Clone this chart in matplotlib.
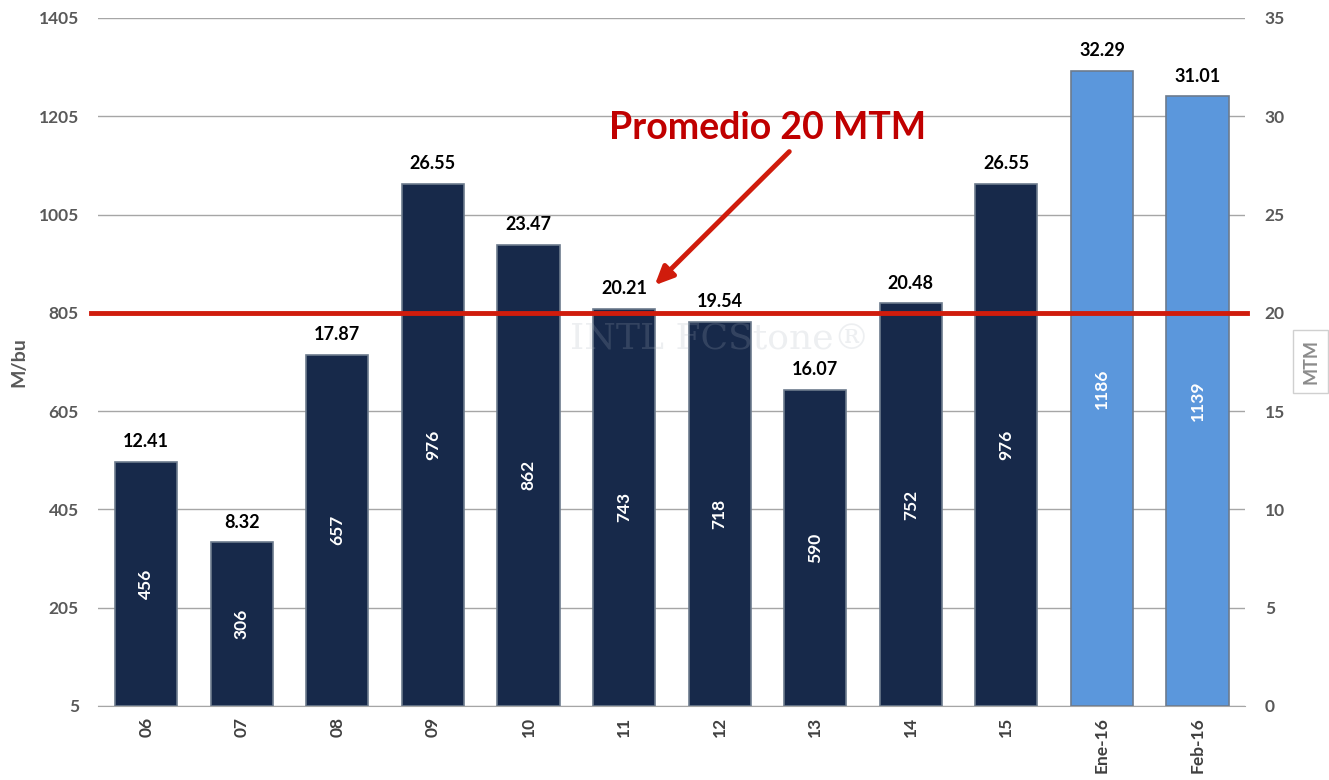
import matplotlib.pyplot as plt
import numpy as np

# data
categories = ['06', '07', '08', '09', '10', '11', '12', '13', '14', '15', 'Ene-16', 'Feb-16']
mtm = [12.41, 8.32, 17.87, 26.55, 23.47, 20.21, 19.54, 16.07, 20.48, 26.55, 32.29, 31.01]
mbu = [456, 306, 657, 976, 862, 743, 718, 590, 752, 976, 1186, 1139]
n_dark = 10  # first ten bars are the annual ones
avg_mtm = 20

dark = '#17294a'
light = '#5b97dc'
grey = '#595959'

plt.rcParams['font.family'] = ['Lato', 'DejaVu Sans']

fig = plt.figure(figsize=(13.29, 7.8), dpi=100)
ax = fig.add_axes([0.074, 0.095, 0.863, 0.882])
axl = ax.twinx()  # left axis in M/bu

x = np.arange(len(categories))
colors = [dark] * n_dark + [light] * (len(categories) - n_dark)
bars = ax.bar(x, mtm, width=0.65, color=colors, edgecolor='#6d7b8d', linewidth=1.2, zorder=3)

ax.set_xlim(-0.5, len(categories) - 0.5)
ax.set_ylim(0, 35)
ax.set_yticks(np.arange(0, 36, 5))
ax.yaxis.tick_right()
ax.yaxis.grid(True, color='#a6a6a6', linewidth=1, zorder=0)
ax.set_axisbelow(True)
ax.tick_params(axis='y', length=0, pad=14, labelsize=12.5, labelcolor=grey)
for t in ax.get_yticklabels():
    t.set_fontweight('bold')

ax.set_xticks(x)
ax.set_xticklabels(categories, rotation=90, fontsize=12.5, fontweight='bold', color='#404040')
ax.tick_params(axis='x', length=0, pad=8)

for s in ['top', 'left', 'right']:
    ax.spines[s].set_visible(False)
ax.spines['bottom'].set_color('#a6a6a6')

axl.set_ylim(5, 1405)
axl.set_yticks(np.arange(5, 1406, 200))
axl.yaxis.tick_left()
axl.yaxis.set_label_position('left')
axl.tick_params(axis='y', length=0, pad=14, labelsize=12.5, labelcolor=grey)
for t in axl.get_yticklabels():
    t.set_fontweight('bold')
for s in axl.spines.values():
    s.set_visible(False)
axl.set_ylabel('M/bu', fontsize=14, fontweight='bold', color=grey, labelpad=8)
axl.set_zorder(0)
ax.set_zorder(1)
ax.patch.set_visible(False)

ax.text(1.057, 0.5, 'MTM', transform=ax.transAxes, rotation=90, ha='center', va='center',
        fontsize=13, fontweight='bold', color='#8c8c8c',
        bbox=dict(boxstyle='square,pad=0.5', fc='white', ec='#d0d0d0', lw=1))

# labels on and in bars
for xi, v, m in zip(x, mtm, mbu):
    ax.text(xi, v + 0.6, f'{v:.2f}', ha='center', va='bottom', fontsize=13,
            fontweight='bold', color='black', zorder=5)
    ax.text(xi, v / 2, str(m), ha='center', va='center', rotation=90, fontsize=12.5,
            fontweight='bold', color='white', zorder=5)

# faint watermark
ax.text(6.0, 18.7, 'INTL FCStone\u00ae', ha='center', va='center', fontsize=26,
        color='#a8b0bc', alpha=0.2, zorder=4, family='DejaVu Serif')

# average line
ax.plot([-0.58, 11.52], [avg_mtm, avg_mtm], color='#d01c0c', linewidth=3.5, zorder=6, clip_on=False)
ax.annotate('', xy=(5.3, 21.3), xytext=(6.75, 28.3),
            arrowprops=dict(arrowstyle='-|>,head_width=0.5,head_length=1.1', color='#d01c0c', lw=3.5),
            zorder=7)
ax.text(6.5, 29.4, 'Promedio 20 MTM', ha='center', va='center', fontsize=27,
        fontweight='bold', color='#c00000', zorder=7)

fig.savefig('out.png', dpi=100)
